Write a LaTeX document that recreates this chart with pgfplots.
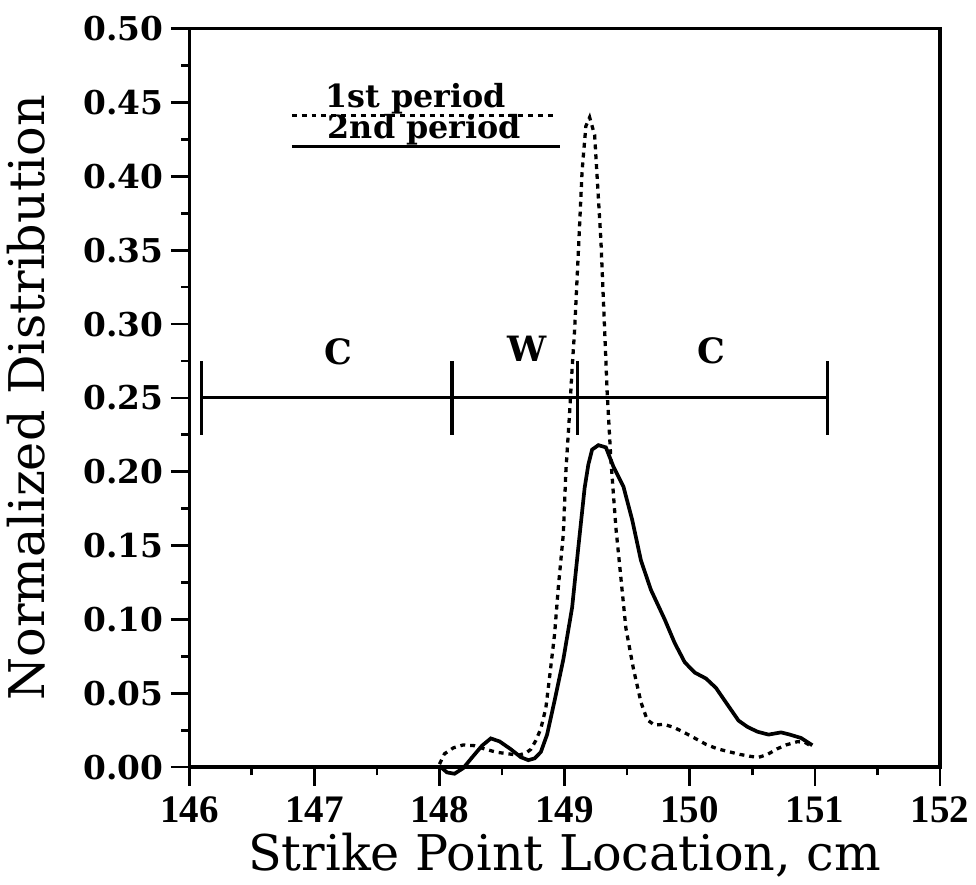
\documentclass[border=0pt]{standalone}
\usepackage{fontspec}
\setmainfont{DejaVu Serif}
\newfontfamily\libser{Liberation Serif}
\usepackage{pgfplots}
\usepackage{pgfplotstable}
\pgfplotsset{compat=1.18}

\newcommand\ytickfont{\fontsize{16}{19}\selectfont\bfseries}
\newcommand\xtickfont{\libser\bfseries\fontsize{19}{22}\selectfont}
\newcommand\labelfont{\fontsize{24}{28}\selectfont}
\newcommand\legfont{\fontsize{15.5}{18}\selectfont\bfseries}
\newcommand\cwfont{\fontsize{17}{19}\selectfont\bfseries}

\pgfplotstableread{
x y
148.00 0.002
148.04 0.009
148.11 0.013
148.19 0.015
148.28 0.0145
148.37 0.012
148.46 0.010
148.55 0.009
148.63 0.008
148.69 0.0095
148.73 0.012
148.77 0.018
148.81 0.026
148.85 0.040
148.88 0.061
148.92 0.090
148.95 0.122
148.99 0.158
149.01 0.200
149.04 0.240
149.06 0.270
149.08 0.296
149.11 0.349
149.14 0.404
149.17 0.434
149.20 0.440
149.24 0.428
149.29 0.357
149.32 0.296
149.34 0.254
149.37 0.208
149.41 0.162
149.45 0.128
149.49 0.094
149.55 0.0666
149.61 0.044
149.66 0.032
149.72 0.0284
149.79 0.029
149.87 0.027
149.95 0.0237
150.04 0.0196
150.13 0.0154
150.22 0.0124
150.31 0.0105
150.40 0.0086
150.49 0.0072
150.55 0.0066
150.62 0.0085
150.70 0.0124
150.77 0.015
150.86 0.0172
150.92 0.0168
150.98 0.0137
}\firstperiod

\pgfplotstableread{
x y
148.01 0.000
148.06 -0.0036
148.12 -0.0045
148.19 -0.0007
148.26 0.0065
148.34 0.0145
148.41 0.0194
148.48 0.0174
148.57 0.0121
148.65 0.0067
148.71 0.0047
148.76 0.0059
148.81 0.0102
148.86 0.022
148.92 0.045
148.99 0.073
149.06 0.108
149.11 0.149
149.16 0.189
149.19 0.205
149.22 0.215
149.27 0.218
149.33 0.2165
149.39 0.2035
149.47 0.190
149.54 0.1675
149.61 0.140
149.69 0.120
149.80 0.100
149.88 0.084
149.96 0.071
150.04 0.064
150.13 0.060
150.21 0.0536
150.30 0.0425
150.39 0.0315
150.46 0.0273
150.54 0.024
150.63 0.022
150.73 0.0235
150.80 0.022
150.89 0.0197
150.98 0.0148
}\secondperiod

\begin{document}
\begin{tikzpicture}
\begin{axis}[
  scale only axis,
  width=366pt, height=360pt,
  xmin=146, xmax=152, ymin=0, ymax=0.5,
  xtick={146,147,148,149,150,151,152},
  ytick={0,0.05,0.10,0.15,0.20,0.25,0.30,0.35,0.40,0.45,0.50},
  minor x tick num=1, minor y tick num=1,
  tick pos=left, tick align=outside,
  major tick length=9pt, minor tick length=4pt,
  axis line style={line width=1.7pt},
  every tick/.style={black, line width=1.3pt},
  clip=false,
  /pgf/number format/assume math mode=true,
  yticklabel style={font=\ytickfont, /pgf/number format/.cd, fixed, fixed zerofill, precision=2},
  xticklabel style={font=\xtickfont, yshift=-2pt},
  xlabel={Strike Point Location, cm},
  ylabel={Normalized Distribution},
  label style={font=\labelfont},
  ylabel shift=12pt,
  xlabel shift=-2pt,
]
% curves
\addplot[black, line width=1.6pt, dash pattern=on 2.4pt off 2.4pt] table[x=x,y=y] {\firstperiod};
\addplot[black, line width=1.8pt] table[x=x,y=y] {\secondperiod};

% C - W - C bar
\addplot[black, line width=1.5pt] coordinates {(146.1,0.25) (151.1,0.25)};
\addplot[black, line width=1.5pt] coordinates {(146.1,0.225) (146.1,0.275)};
\addplot[black, line width=1.5pt] coordinates {(148.1,0.225) (148.1,0.275)};
\addplot[black, line width=1.5pt] coordinates {(149.1,0.225) (149.1,0.275)};
\addplot[black, line width=1.5pt] coordinates {(151.1,0.225) (151.1,0.275)};
\node[font=\cwfont] at (axis cs:147.19,0.281) {C};
\node[font=\cwfont] at (axis cs:148.70,0.283) {W};
\node[font=\cwfont] at (axis cs:150.17,0.282) {C};

% legend
\addplot[black, line width=1.6pt, dash pattern=on 2.4pt off 2.4pt] coordinates {(146.82,0.441) (148.92,0.441)};
\addplot[black, line width=1.5pt] coordinates {(146.82,0.420) (148.96,0.420)};
\node[font=\legfont, anchor=base] at (axis cs:147.81,0.4465) {1st period};
\node[font=\legfont, anchor=base] at (axis cs:147.88,0.4255) {2nd period};
\end{axis}
\path ([yshift=14pt]current axis.north);
\end{tikzpicture}
\end{document}
